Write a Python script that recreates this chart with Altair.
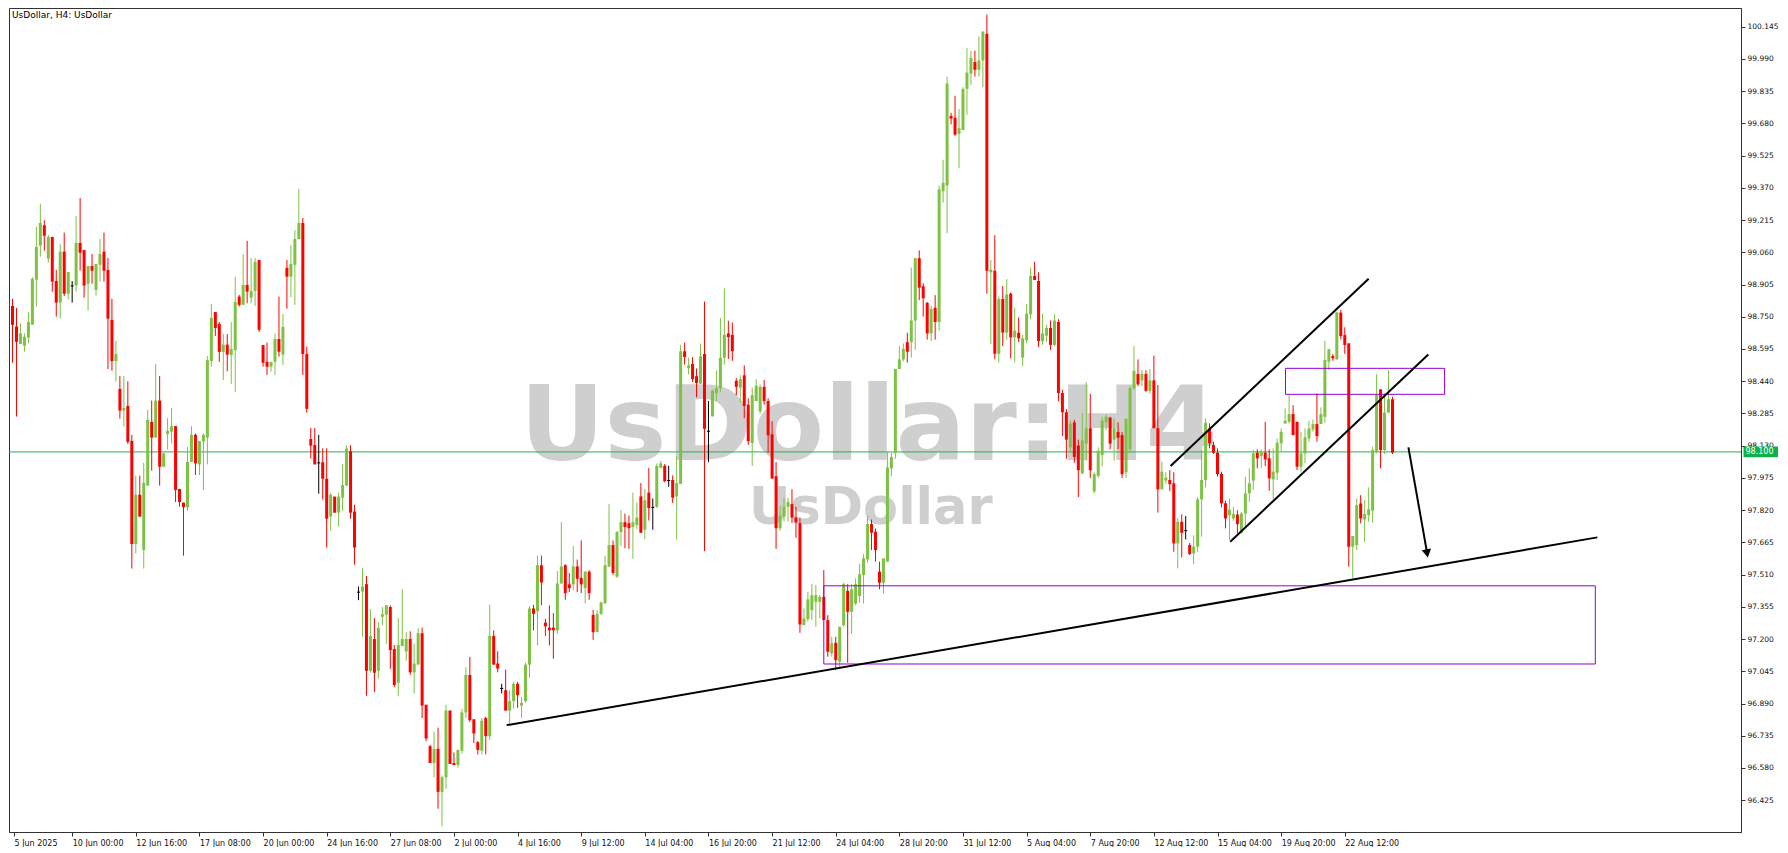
import json
import altair as alt
import pandas as pd

# ---- H4 candles (bar index 0 = 5 Jun 2025 08:00) ----
opens = [
    98.812, 98.802, 98.703, 98.619, 98.611, 98.650, 98.712, 98.929, 99.092, 99.190,
    99.030, 99.134, 98.922, 98.818, 99.063, 98.861, 98.901, 98.901, 99.105, 99.071,
    98.909, 98.994, 98.879, 99.000, 99.063, 98.975, 98.735, 98.537, 98.403, 98.299,
    98.321, 98.153, 97.657, 97.894, 97.628, 97.938, 98.244, 98.169, 98.347, 98.029,
    98.186, 98.197, 98.224, 97.922, 97.856, 97.834, 98.052, 98.182, 98.040, 98.150,
    98.169, 98.537, 98.773, 98.715, 98.581, 98.616, 98.566, 98.590, 98.847, 98.807,
    98.903, 98.842, 98.874, 99.023, 98.614, 98.533, 98.510, 98.533, 98.643, 98.568,
    98.985, 98.943, 99.000, 99.124, 99.201, 98.571, 98.162, 98.133, 98.050, 98.050,
    97.971, 97.789, 97.885, 97.808, 97.880, 97.938, 98.103, 97.813, 97.428, 97.428,
    97.464, 97.047, 97.200, 97.047, 97.307, 97.317, 97.354, 97.152, 96.990, 97.166,
    97.140, 97.200, 97.040, 97.077, 97.228, 96.884, 96.685, 96.604, 96.672, 96.465,
    96.535, 96.856, 96.604, 96.594, 96.663, 96.847, 97.027, 96.814, 96.704, 96.663,
    96.820, 96.733, 97.215, 97.082, 96.965, 96.954, 96.856, 96.902, 96.985, 96.880,
    96.902, 97.077, 97.347, 97.334, 97.555, 97.279, 97.255, 97.255, 97.242, 97.467,
    97.555, 97.463, 97.463, 97.549, 97.494, 97.445, 97.524, 97.316, 97.233, 97.321,
    97.371, 97.549, 97.652, 97.500, 97.715, 97.762, 97.757, 97.739, 97.748, 97.886,
    97.726, 97.904, 97.836, 97.836, 98.024, 98.033, 97.965, 97.965, 97.886, 97.946,
    98.584, 98.502, 98.523, 98.464, 98.428, 98.571, 98.202, 98.271, 98.382, 98.406,
    98.553, 98.670, 98.663, 98.442, 98.409, 98.468, 98.327, 98.143, 98.345, 98.295,
    98.413, 98.345, 98.185, 97.983, 97.733, 97.789, 97.836, 97.849, 97.784, 97.757,
    97.267, 97.296, 97.339, 97.379, 97.379, 97.403, 97.291, 97.131, 97.182, 97.091,
    97.267, 97.432, 97.331, 97.371, 97.407, 97.508, 97.583, 97.753, 97.716, 97.524,
    97.471, 97.572, 98.021, 98.095, 98.499, 98.545, 98.628, 98.628, 98.732, 99.032,
    98.897, 98.817, 98.670, 98.793, 98.725, 99.354, 99.381, 99.716, 99.707, 99.629,
    99.648, 99.846, 99.920, 99.975, 99.938, 99.983, 100.111, 98.964, 98.971, 98.572,
    98.835, 98.674, 98.861, 98.651, 98.673, 98.554, 98.637, 98.762, 98.946, 98.922,
    98.633, 98.659, 98.696, 98.615, 98.725, 98.383, 98.291, 98.122, 98.242, 98.131,
    97.997, 98.140, 98.214, 97.910, 97.984, 98.085, 98.242, 98.265, 98.159, 98.196,
    98.181, 98.002, 98.113, 98.407, 98.475, 98.444, 98.475, 98.394, 98.444, 98.214,
    97.920, 97.962, 97.965, 97.949, 97.660, 97.764, 97.724, 97.652, 97.612, 97.644,
    97.872, 97.965, 98.213, 98.133, 98.096, 97.994, 97.853, 97.796, 97.780, 97.799,
    97.711, 97.804, 97.901, 97.962, 98.096, 98.080, 98.096, 98.069, 97.968, 98.000,
    98.141, 98.237, 98.245, 98.282, 98.245, 98.029, 98.093, 98.165, 98.208, 98.234,
    98.234, 98.269, 98.534, 98.561, 98.545, 98.770, 98.662, 98.622, 97.644, 97.652,
    97.852, 97.775, 97.796, 97.817, 98.101, 98.401, 98.109, 98.289, 98.353,
]
highs = [
    98.830, 98.836, 98.792, 98.719, 98.670, 98.773, 98.940, 99.184, 99.293, 99.214,
    99.143, 99.134, 98.975, 99.099, 99.155, 98.965, 98.922, 99.235, 99.321, 99.071,
    98.994, 99.052, 99.004, 99.124, 99.155, 99.033, 98.837, 98.634, 98.465, 98.465,
    98.440, 98.182, 97.986, 97.986, 98.048, 98.303, 98.347, 98.523, 98.465, 98.093,
    98.263, 98.311, 98.224, 97.922, 97.856, 98.124, 98.224, 98.189, 98.153, 98.189,
    98.561, 98.812, 98.773, 98.725, 98.667, 98.667, 98.725, 98.943, 98.855, 99.052,
    99.115, 99.033, 99.033, 99.023, 98.614, 98.626, 98.533, 98.670, 98.847, 98.763,
    99.023, 99.095, 99.167, 99.365, 99.225, 98.606, 98.215, 98.215, 98.182, 98.117,
    98.117, 97.904, 97.885, 97.904, 98.042, 98.132, 98.132, 97.846, 97.452, 97.541,
    97.503, 97.344, 97.301, 97.282, 97.354, 97.362, 97.362, 97.171, 97.301, 97.440,
    97.233, 97.237, 97.178, 97.252, 97.255, 96.884, 96.691, 96.755, 96.774, 96.544,
    96.884, 96.856, 96.654, 96.667, 96.865, 97.064, 97.114, 96.814, 96.709, 96.820,
    96.825, 97.365, 97.242, 97.141, 96.985, 97.053, 96.954, 96.994, 96.994, 96.921,
    97.086, 97.358, 97.365, 97.601, 97.601, 97.297, 97.362, 97.325, 97.527, 97.762,
    97.560, 97.518, 97.647, 97.582, 97.674, 97.527, 97.531, 97.340, 97.340, 97.380,
    97.601, 97.849, 97.674, 97.720, 97.821, 97.803, 97.794, 97.904, 97.858, 97.950,
    97.922, 98.023, 97.876, 98.045, 98.057, 98.042, 98.033, 97.987, 98.079, 98.615,
    98.626, 98.553, 98.556, 98.501, 98.621, 98.823, 98.345, 98.400, 98.492, 98.744,
    98.887, 98.731, 98.722, 98.455, 98.468, 98.516, 98.358, 98.409, 98.450, 98.424,
    98.446, 98.358, 98.248, 98.051, 97.840, 97.880, 97.880, 97.920, 97.836, 97.784,
    97.347, 97.427, 97.464, 97.460, 97.411, 97.532, 97.315, 97.211, 97.211, 97.259,
    97.471, 97.464, 97.464, 97.492, 97.561, 97.609, 97.791, 97.775, 97.732, 97.572,
    97.588, 98.101, 98.095, 98.499, 98.609, 98.622, 98.673, 98.986, 99.032, 99.069,
    98.912, 98.821, 98.802, 98.854, 99.381, 99.505, 99.905, 99.731, 99.813, 99.749,
    99.854, 100.043, 100.030, 100.030, 100.098, 100.122, 100.203, 99.023, 99.142, 98.848,
    98.898, 98.931, 98.867, 98.793, 98.747, 98.664, 98.811, 98.986, 99.014, 98.964,
    98.765, 98.711, 98.732, 98.762, 98.738, 98.398, 98.306, 98.251, 98.254, 98.159,
    98.288, 98.435, 98.379, 98.002, 98.122, 98.269, 98.279, 98.269, 98.260, 98.242,
    98.196, 98.260, 98.416, 98.609, 98.545, 98.493, 98.493, 98.499, 98.563, 98.422,
    98.053, 98.002, 98.012, 98.002, 97.782, 97.800, 97.792, 97.662, 97.699, 97.883,
    98.109, 98.261, 98.237, 98.149, 98.117, 98.005, 97.865, 97.877, 97.836, 97.820,
    97.812, 97.981, 98.021, 98.109, 98.112, 98.112, 98.245, 98.112, 98.117, 98.165,
    98.213, 98.309, 98.373, 98.325, 98.245, 98.197, 98.213, 98.250, 98.256, 98.381,
    98.314, 98.635, 98.596, 98.571, 98.774, 98.782, 98.699, 98.622, 97.695, 97.876,
    97.892, 97.869, 97.929, 98.125, 98.474, 98.401, 98.381, 98.494, 98.365,
]
lows = [
    98.780, 98.529, 98.270, 98.619, 98.582, 98.622, 98.712, 98.799, 99.039, 99.068,
    99.010, 98.871, 98.751, 98.743, 98.850, 98.834, 98.818, 98.871, 98.972, 98.842,
    98.780, 98.909, 98.852, 98.919, 98.919, 98.499, 98.491, 98.438, 98.260, 98.222,
    98.138, 97.539, 97.612, 97.789, 97.539, 97.938, 98.010, 98.169, 97.938, 98.029,
    98.112, 98.141, 97.859, 97.837, 97.601, 97.817, 98.052, 97.989, 97.989, 97.917,
    98.040, 98.510, 98.658, 98.533, 98.446, 98.488, 98.427, 98.388, 98.799, 98.807,
    98.815, 98.815, 98.802, 98.677, 98.510, 98.470, 98.486, 98.470, 98.558, 98.518,
    98.789, 98.844, 98.807, 99.124, 98.470, 98.289, 98.068, 98.040, 97.899, 97.870,
    97.640, 97.721, 97.808, 97.741, 97.817, 97.938, 97.779, 97.558, 97.387, 97.211,
    96.927, 97.038, 96.946, 97.009, 97.267, 97.176, 97.057, 96.969, 96.927, 97.166,
    97.096, 97.028, 96.939, 97.077, 96.820, 96.709, 96.604, 96.535, 96.384, 96.299,
    96.480, 96.599, 96.594, 96.581, 96.649, 96.820, 96.801, 96.700, 96.645, 96.645,
    96.645, 96.715, 97.077, 97.040, 96.939, 96.856, 96.792, 96.865, 96.869, 96.820,
    96.893, 97.013, 97.242, 97.169, 97.362, 97.215, 97.169, 97.105, 97.224, 97.467,
    97.389, 97.426, 97.435, 97.426, 97.421, 97.371, 97.389, 97.196, 97.233, 97.316,
    97.371, 97.546, 97.509, 97.494, 97.647, 97.637, 97.634, 97.586, 97.729, 97.711,
    97.680, 97.770, 97.726, 97.830, 98.020, 97.954, 97.932, 97.854, 97.678, 97.946,
    98.520, 98.474, 98.437, 98.363, 98.428, 97.623, 98.051, 98.271, 98.345, 98.387,
    98.520, 98.547, 98.538, 98.373, 98.336, 98.262, 98.134, 98.033, 98.345, 98.284,
    98.327, 98.097, 97.972, 97.634, 97.720, 97.766, 97.766, 97.759, 97.687, 97.230,
    97.267, 97.283, 97.291, 97.259, 97.299, 97.291, 97.115, 97.115, 97.051, 97.067,
    97.259, 97.086, 97.224, 97.363, 97.375, 97.371, 97.567, 97.628, 97.572, 97.439,
    97.419, 97.572, 97.984, 98.067, 98.499, 98.536, 98.530, 98.554, 98.591, 98.830,
    98.751, 98.640, 98.633, 98.640, 98.683, 99.299, 99.152, 99.675, 99.620, 99.464,
    99.648, 99.721, 99.865, 99.905, 99.905, 99.854, 98.861, 98.618, 98.545, 98.530,
    98.609, 98.640, 98.549, 98.530, 98.628, 98.512, 98.622, 98.738, 98.927, 98.604,
    98.615, 98.628, 98.591, 98.609, 98.343, 98.177, 98.067, 98.104, 98.048, 97.883,
    97.993, 98.058, 97.975, 97.901, 97.975, 98.030, 98.205, 98.113, 98.058, 98.113,
    97.975, 97.975, 98.104, 98.398, 98.416, 98.416, 98.389, 98.380, 98.214, 97.808,
    97.920, 97.947, 97.911, 97.620, 97.540, 97.593, 97.679, 97.604, 97.561, 97.620,
    97.692, 97.929, 98.117, 98.090, 97.981, 97.833, 97.732, 97.676, 97.769, 97.708,
    97.708, 97.740, 97.860, 97.917, 98.021, 98.021, 98.032, 97.913, 97.872, 97.965,
    98.101, 98.234, 98.237, 98.181, 98.013, 98.005, 98.045, 98.149, 98.197, 98.149,
    98.234, 98.240, 98.494, 98.539, 98.545, 98.641, 98.571, 97.548, 97.492, 97.628,
    97.756, 97.668, 97.764, 97.760, 98.093, 98.021, 98.090, 98.289, 98.090,
]
closes = [
    98.802, 98.711, 98.629, 98.670, 98.654, 98.725, 98.932, 99.086, 99.201, 99.140,
    99.134, 98.919, 98.818, 99.063, 98.861, 98.965, 98.901, 99.105, 99.058, 98.900,
    98.994, 98.972, 99.004, 99.052, 98.972, 98.741, 98.537, 98.571, 98.299, 98.311,
    98.148, 97.657, 97.894, 97.789, 97.951, 98.254, 98.169, 98.347, 98.029, 98.093,
    98.201, 98.224, 97.917, 97.859, 97.834, 98.052, 98.182, 98.045, 98.153, 98.182,
    98.542, 98.744, 98.696, 98.581, 98.616, 98.568, 98.595, 98.821, 98.807, 98.903,
    98.871, 98.874, 99.014, 98.687, 98.529, 98.510, 98.533, 98.643, 98.582, 98.701,
    98.943, 99.004, 99.124, 99.201, 98.571, 98.307, 98.130, 98.040, 98.050, 97.971,
    97.779, 97.894, 97.808, 97.885, 97.941, 98.116, 97.808, 97.640, 97.428, 97.452,
    97.047, 97.214, 97.038, 97.253, 97.320, 97.362, 97.147, 96.979, 97.171, 97.200,
    97.200, 97.040, 97.082, 97.228, 96.880, 96.722, 96.604, 96.672, 96.465, 96.535,
    96.856, 96.599, 96.594, 96.667, 96.847, 97.027, 96.810, 96.746, 96.667, 96.807,
    96.733, 97.215, 97.077, 97.058, 96.965, 96.856, 96.902, 96.985, 96.930, 96.893,
    97.077, 97.347, 97.321, 97.555, 97.472, 97.261, 97.242, 97.242, 97.467, 97.549,
    97.421, 97.445, 97.549, 97.490, 97.463, 97.524, 97.421, 97.233, 97.321, 97.376,
    97.555, 97.652, 97.518, 97.715, 97.762, 97.739, 97.733, 97.762, 97.784, 97.711,
    97.867, 97.830, 97.836, 98.033, 98.045, 97.959, 97.965, 97.880, 97.950, 98.584,
    98.556, 98.516, 98.450, 98.431, 98.560, 98.211, 98.202, 98.395, 98.406, 98.553,
    98.663, 98.652, 98.584, 98.413, 98.450, 98.321, 98.152, 98.373, 98.418, 98.413,
    98.345, 98.180, 97.972, 97.733, 97.794, 97.836, 97.858, 97.784, 97.762, 97.270,
    97.299, 97.391, 97.411, 97.411, 97.403, 97.291, 97.139, 97.179, 97.099, 97.259,
    97.464, 97.331, 97.439, 97.464, 97.512, 97.588, 97.753, 97.711, 97.628, 97.471,
    97.588, 98.025, 98.076, 98.499, 98.545, 98.596, 98.582, 98.732, 99.032, 98.890,
    98.839, 98.670, 98.787, 98.725, 99.363, 99.394, 99.872, 99.703, 99.626, 99.657,
    99.846, 99.924, 99.994, 99.938, 99.983, 100.122, 98.971, 98.977, 98.572, 98.835,
    98.674, 98.857, 98.651, 98.683, 98.646, 98.646, 98.765, 98.946, 98.927, 98.633,
    98.670, 98.696, 98.615, 98.732, 98.383, 98.291, 98.159, 98.236, 98.076, 98.012,
    98.155, 98.214, 98.012, 97.993, 98.104, 98.251, 98.269, 98.140, 98.214, 98.168,
    97.993, 98.260, 98.407, 98.490, 98.425, 98.475, 98.394, 98.444, 98.214, 97.920,
    98.005, 97.976, 97.945, 97.660, 97.764, 97.711, 97.724, 97.609, 97.644, 97.872,
    97.965, 98.240, 98.141, 98.096, 97.994, 97.853, 97.780, 97.822, 97.801, 97.753,
    97.804, 97.901, 97.949, 98.093, 98.069, 98.101, 98.064, 97.973, 98.005, 98.144,
    98.197, 98.250, 98.282, 98.181, 98.029, 98.093, 98.170, 98.213, 98.234, 98.176,
    98.282, 98.542, 98.593, 98.550, 98.771, 98.657, 98.614, 97.644, 97.695, 97.844,
    97.780, 97.801, 97.824, 98.109, 98.374, 98.109, 98.289, 98.353, 98.096,
]

# ---- axis labels ----
time_labels = ["5 Jun 2025", "10 Jun 00:00", "12 Jun 16:00", "17 Jun 08:00", "20 Jun 00:00",
               "24 Jun 16:00", "27 Jun 08:00", "2 Jul 00:00", "4 Jul 16:00", "9 Jul 12:00",
               "14 Jul 04:00", "16 Jul 20:00", "21 Jul 12:00", "24 Jul 04:00", "28 Jul 20:00",
               "31 Jul 12:00", "5 Aug 04:00", "7 Aug 20:00", "12 Aug 12:00", "15 Aug 04:00",
               "19 Aug 20:00", "22 Aug 12:00"]
label_bars = [0, 16, 32, 48, 64, 80, 96, 112, 128, 144, 160, 176, 192, 208, 224, 240,
              256, 272, 288, 304, 320, 336]
price_ticks = [96.425, 96.580, 96.735, 96.890, 97.045, 97.200, 97.355, 97.510, 97.665,
               97.820, 97.975, 98.130, 98.285, 98.440, 98.595, 98.750, 98.905, 99.060,
               99.215, 99.370, 99.525, 99.680, 99.835, 99.990, 100.145]
current_price = [98.100]

# ---- drawings (bar index / price) ----
line_x1 = [125.25, 292.2, 307.2, 352.0]
line_y1 = [96.786, 98.032, 97.668, 98.122]
line_x2 = [399.5, 342.0, 357.0, 356.6]
line_y2 = [97.689, 98.933, 98.569, 97.625]
arrow_tip_x = [356.7]
arrow_tip_y = [97.612]
zone_x1 = [205.0, 321.1]
zone_x2 = [399.0, 361.1]
zone_top = [97.456, 98.502]
zone_bottom = [97.080, 98.377]

title_text = ["UsDollar, H4:  UsDollar"]
watermark_main = ["UsDollar:H4"]
watermark_sub = ["UsDollar"]

GREEN = "#7DC242"
RED = "#FF0000"
PURPLE = "#9400D3"
LINE_GREEN = "#22B14C"

X_DOMAIN = [1.375, 434.375]
Y_DOMAIN = [96.272, 100.235]

bars = pd.DataFrame({"k": list(range(len(opens))), "o": opens, "h": highs, "l": lows, "c": closes})
lines = pd.DataFrame({"x1": line_x1, "y1": line_y1, "x2": line_x2, "y2": line_y2})
zones = pd.DataFrame({"x1": zone_x1, "x2": zone_x2, "t": zone_top, "b": zone_bottom})
tip = pd.DataFrame({"x": arrow_tip_x, "y": arrow_tip_y})
cur = pd.DataFrame({"p": current_price})

xscale = alt.Scale(domain=X_DOMAIN, nice=False, zero=False)
yscale = alt.Scale(domain=Y_DOMAIN, nice=False, zero=False)

axis_values = [max(b, X_DOMAIN[0]) for b in label_bars]
label_expr = f"{json.dumps(time_labels)}[indexof({json.dumps(axis_values)}, datum.value)]"

common_axis = dict(title=None, grid=False, tickSize=4, labelFont="DejaVu Sans",
                   labelColor="#111111", domainColor="#333333", tickColor="#333333",
                   labelOverlap=False, labelFlush=False, labelBound=False)
xaxis = alt.Axis(values=axis_values, labelExpr=label_expr, orient="bottom", labelAlign="left",
                 labelBaseline="top", labelPadding=3, labelFontSize=8, **common_axis)
yaxis = alt.Axis(values=price_ticks, format=".3f", orient="right", labelPadding=2,
                 labelBaseline="middle", labelFontSize=7.5, **common_axis)


def X(field):
    return alt.X(field, type="quantitative", scale=xscale, axis=xaxis)


def Y(field):
    return alt.Y(field, type="quantitative", scale=yscale, axis=yaxis)


cscale = alt.Scale(domain=["up", "down", "flat"], range=[GREEN, RED, "#000000"])

wm1 = alt.Chart(pd.DataFrame({"t": watermark_main})).mark_text(
    font="DejaVu Sans", fontWeight="bold", fontSize=104, color="#CFCFCF",
    align="left", baseline="alphabetic").encode(x=alt.value(511), y=alt.value(452), text="t:N")
wm2 = alt.Chart(pd.DataFrame({"t": watermark_sub})).mark_text(
    font="DejaVu Sans", fontWeight="bold", fontSize=51, color="#CFCFCF",
    align="left", baseline="alphabetic").encode(x=alt.value(740), y=alt.value(516), text="t:N")

price_line = alt.Chart(cur).mark_rule(color=LINE_GREEN, strokeWidth=1).encode(y=Y("p"))

base = alt.Chart(bars).transform_calculate(
    dir="datum.c > datum.o ? 'up' : (datum.c < datum.o ? 'down' : 'flat')",
    hi="max(datum.h, datum.o, datum.c)",
    lo="min(datum.l, datum.o, datum.c)",
    top="max(datum.o, datum.c)",
    bot="min(datum.o, datum.c) - (abs(datum.c - datum.o) < 0.005 ? 0.005 : 0)",
)
wicks = base.mark_rule(strokeWidth=1, clip=True).encode(
    x=X("k"), y=Y("lo"), y2="hi:Q", color=alt.Color("dir:N", scale=cscale, legend=None))
bodies = base.mark_bar(size=3, clip=True).encode(
    x=X("k"), y=Y("top"), y2="bot:Q", color=alt.Color("dir:N", scale=cscale, legend=None))

zone_layer = alt.Chart(zones).mark_rect(fillOpacity=0, stroke=PURPLE, strokeWidth=1, clip=True).encode(
    x=X("x1"), x2="x2:Q", y=Y("t"), y2="b:Q")
line_layer = alt.Chart(lines).mark_rule(color="#000000", strokeWidth=2, clip=True).encode(
    x=X("x1"), y=Y("y1"), x2="x2:Q", y2="y2:Q")
tip_layer = alt.Chart(tip).mark_point(shape="triangle-down", filled=True, size=90, color="#000000",
                                      opacity=1, angle=350).encode(x=X("x"), y=Y("y"))

tag_box = alt.Chart(cur).transform_calculate(p1="datum.p - 0.026", p2="datum.p + 0.026").mark_rect(
    color="#0DB04B").encode(x=alt.value(1734.5), x2=alt.value(1769), y=Y("p1"), y2="p2:Q")
tag_text = alt.Chart(cur).mark_text(align="left", baseline="middle", fontSize=8, font="DejaVu Sans",
                                    color="#FFFFFF").encode(
    x=alt.value(1736.5), y=Y("p"), text=alt.Text("p:Q", format=".3f"))

title_layer = alt.Chart(pd.DataFrame({"t": title_text})).mark_text(
    align="left", baseline="alphabetic", fontSize=9, font="DejaVu Sans", color="#000000").encode(
    x=alt.value(3), y=alt.value(10), text="t:N")

chart = alt.layer(
    wm1, wm2, price_line, wicks, bodies, zone_layer, line_layer, tip_layer, tag_box, tag_text, title_layer
).properties(width=1732, height=824, padding=0, background="white").configure_view(
    stroke="#333333", strokeWidth=1)

chart.save("out.html", embed_options={"renderer": "svg", "actions": False})
